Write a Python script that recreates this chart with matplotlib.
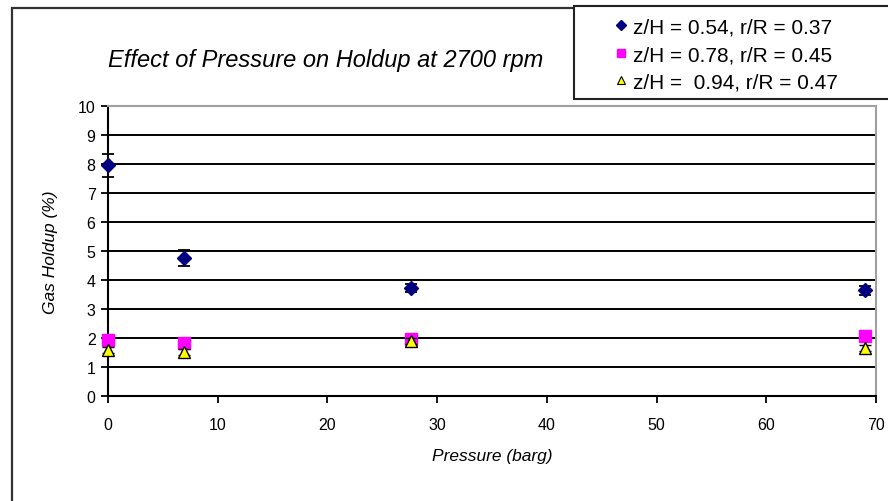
import matplotlib
matplotlib.use("Agg")
import matplotlib.pyplot as plt
from matplotlib.patches import Rectangle
from matplotlib.lines import Line2D

# Data
pressure = [0, 6.9, 27.6, 69]
s1_label = "z/H = 0.54, r/R = 0.37"
s1_vals = [7.95, 4.77, 3.72, 3.65]
s1_err = [0.4, 0.27, 0.15, 0.16]
s2_label = "z/H = 0.78, r/R = 0.45"
s2_vals = [1.92, 1.84, 1.97, 2.07]
s2_err = [0.08, 0.08, 0.08, 0.08]
s3_label = "z/H =  0.94, r/R = 0.47"
s3_vals = [1.6, 1.53, 1.9, 1.66]
s3_err = [0.1, 0.1, 0.1, 0.1]
xticks = [0, 10, 20, 30, 40, 50, 60, 70]
yticks = list(range(0, 11))

plt.rcParams['font.family'] = ['Liberation Sans', 'DejaVu Sans']

W, H = 888, 502
fig = plt.figure(figsize=(W / 100, H / 100), dpi=100)
fig.patch.set_facecolor('white')

# outer chart frame
fig.patches.append(Rectangle((12 / W, -0.1), 1.2, 1 - 9 / H + 0.1, transform=fig.transFigure,
                             fill=False, edgecolor='#333333', linewidth=1.6, zorder=0))

ax = fig.add_axes([108 / W, 1 - 397 / H, (876 - 108) / W, (397 - 107) / H])
ax.set_xlim(0, 70)
ax.set_ylim(0, 10)
ax.set_xticks(xticks)
ax.set_yticks(yticks)
ax.yaxis.grid(True, color='black', linewidth=1.4)
ax.set_axisbelow(True)

for sp in ['top', 'right']:
    ax.spines[sp].set_color('#a0a0a0')
    ax.spines[sp].set_linewidth(1.5)
for sp in ['left', 'bottom']:
    ax.spines[sp].set_color('black')
    ax.spines[sp].set_linewidth(1.5)

ax.tick_params(axis='both', direction='out', length=5, width=1.3, color='black',
               labelsize=11.5, labelcolor='black')
ax.tick_params(axis='x', pad=10)
ax.tick_params(axis='y', pad=4)

common = dict(linestyle='none', capsize=4, elinewidth=1.3, capthick=1.3, clip_on=False,
              ecolor='black')
e1 = ax.errorbar(pressure, s1_vals, yerr=s1_err, marker='D', markersize=7,
                 color='#000080', markerfacecolor='#000080', markeredgecolor='#000080',
                 label=s1_label, zorder=5, **common)
e2 = ax.errorbar(pressure, s2_vals, yerr=s2_err, marker='s', markersize=8,
                 color='#ff00ff', markerfacecolor='#ff00ff', markeredgecolor='#ff00ff',
                 label=s2_label, zorder=6, **common)
e3 = ax.errorbar(pressure, s3_vals, yerr=s3_err, marker='^', markersize=8,
                 color='#ffff00', markerfacecolor='#ffff00', markeredgecolor='black',
                 markeredgewidth=1.0, label=s3_label, zorder=7, **common)
for e in (e1, e2, e3):
    for c in e[1]:
        c.set_clip_on(False)
    for b in e[2]:
        b.set_clip_on(False)

ax.set_xlabel("Pressure (barg)", fontstyle='italic', fontsize=12.5, labelpad=12)
ax.set_ylabel("Gas Holdup (%)", fontstyle='italic', fontsize=12.5, labelpad=14)

fig.text(326 / W, 1 - 60 / H, "Effect of Pressure on Holdup at 2700 rpm",
         fontstyle='italic', fontsize=17, ha='center', va='center')

# legend box
fig.patches.append(Rectangle((574 / W, 1 - 100 / H), 0.5, 93 / H, transform=fig.transFigure,
                             facecolor='white', edgecolor='#222222', linewidth=1.5, zorder=3))
h1 = Line2D([], [], marker='D', linestyle='none', markersize=5, color='#000080')
h2 = Line2D([], [], marker='s', linestyle='none', markersize=6, color='#ff00ff')
h3 = Line2D([], [], marker='^', linestyle='none', markersize=6, markerfacecolor='#ffff00',
            markeredgecolor='black', markeredgewidth=0.8)
leg = fig.legend([h1, h2, h3], [s1_label, s2_label, s3_label], loc='upper left',
                 bbox_to_anchor=(598 / W, 1 - 2 / H), frameon=False, fontsize=15,
                 handlelength=0.6, handletextpad=0.3, labelspacing=0.4, borderpad=0.3)
leg.set_zorder(4)

fig.savefig("out.png", dpi=100)
